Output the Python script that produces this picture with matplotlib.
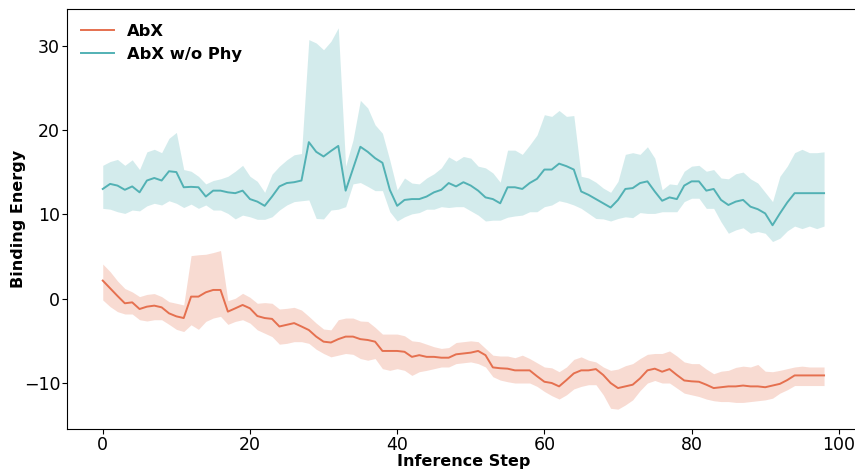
import matplotlib
matplotlib.use("Agg")
import matplotlib.pyplot as plt
import numpy as np

# inference steps 0..98
steps = np.arange(99)

# AbX (orange): mean curve and shaded band
abx_mean = [2.14, 1.23, 0.32, -0.55, -0.44, -1.23, -0.95, -0.83, -1.03, -1.74,
            -2.1, -2.3, 0.24, 0.24, 0.75, 1.03, 1.03, -1.54, -1.15, -0.75,
            -1.15, -2.06, -2.3, -2.4, -3.3, -3.1, -2.9, -3.3, -3.72, -4.5,
            -5.1, -5.2, -4.8, -4.5, -4.5, -4.8, -4.9, -5.1, -6.2, -6.2,
            -6.2, -6.3, -6.9, -6.7, -6.9, -6.9, -7.0, -7.0, -6.6, -6.5,
            -6.4, -6.2, -6.7, -8.15, -8.25, -8.3, -8.5, -8.5, -8.5, -9.2,
            -9.85, -10.0, -10.4, -9.65, -8.86, -8.5, -8.5, -8.35, -9.05, -10.0,
            -10.6, -10.4, -10.2, -9.45, -8.5, -8.3, -8.66, -8.35, -9.05, -9.7,
            -9.8, -9.85, -10.2, -10.6, -10.5, -10.4, -10.4, -10.3, -10.4, -10.4,
            -10.5, -10.3, -10.1, -9.65, -9.1, -9.1, -9.1, -9.1, -9.1]
abx_upper = [4.1, 3.2, 2.1, 1.2, 0.8, 0.24, 0.5, 0.6, 0.24, -0.36,
             -0.55, -0.75, 5.1, 5.2, 5.26, 5.46, 5.7, -0.24, 0.04, 0.63,
             0.16, -0.55, -0.47, -0.55, -1.23, -1.15, -1.03, -1.35, -2.1, -2.9,
             -3.6, -3.7, -2.5, -2.3, -2.3, -2.65, -2.7, -3.4, -4.2, -4.2,
             -4.2, -4.4, -5.0, -5.1, -5.4, -5.7, -5.9, -5.8, -5.2, -5.1,
             -5.0, -5.1, -5.9, -6.7, -6.8, -6.8, -7.0, -6.7, -7.1, -7.6,
             -8.1, -8.2, -8.66, -8.1, -7.2, -6.9, -7.3, -7.5, -8.1, -8.5,
             -8.35, -7.95, -7.7, -7.1, -6.6, -6.5, -6.5, -6.2, -6.8, -7.5,
             -7.7, -7.7, -8.35, -8.9, -8.6, -8.5, -8.15, -8.0, -8.1, -7.8,
             -8.6, -8.66, -8.5, -8.3, -8.1, -8.0, -8.1, -8.1, -8.1]
abx_lower = [-0.16, -0.95, -1.54, -1.82, -1.82, -2.5, -2.65, -2.5, -2.5, -3.05,
             -3.64, -3.9, -3.1, -3.64, -2.7, -2.3, -2.1, -3.05, -2.7, -2.5,
             -2.9, -3.7, -4.1, -4.5, -5.4, -5.3, -5.1, -5.1, -5.3, -6.0,
             -6.5, -6.9, -6.7, -6.5, -6.6, -7.1, -7.3, -7.1, -8.3, -8.5,
             -8.3, -8.5, -9.1, -8.66, -8.5, -8.3, -8.1, -8.1, -7.7, -7.6,
             -7.5, -7.7, -8.1, -9.25, -9.65, -9.85, -10.0, -10.0, -10.0, -10.4,
             -11.0, -11.5, -11.9, -11.4, -10.7, -10.4, -10.2, -10.2, -11.4, -13.0,
             -13.1, -12.6, -12.0, -10.9, -10.0, -9.7, -10.0, -10.0, -10.6, -11.2,
             -11.4, -11.6, -11.9, -12.1, -12.2, -12.2, -12.3, -12.3, -12.2, -12.1,
             -12.0, -11.8, -11.2, -10.8, -10.3, -10.3, -10.3, -10.3, -10.3]

# AbX w/o Phy (teal): mean curve and shaded band
nophy_mean = [13.0, 13.6, 13.4, 12.9, 13.3, 12.6, 14.0, 14.3, 14.0, 15.1,
              15.0, 13.2, 13.25, 13.2, 12.1, 12.8, 12.8, 12.6, 12.5, 12.8,
              11.8, 11.5, 11.0, 12.1, 13.3, 13.7, 13.8, 14.0, 18.55, 17.4,
              16.85, 17.5, 18.1, 12.8, 15.4, 18.0, 17.4, 16.65, 16.1, 12.9,
              11.0, 11.7, 11.8, 11.8, 12.1, 12.6, 12.9, 13.7, 13.3, 13.8,
              13.4, 12.8, 12.0, 11.8, 11.3, 13.2, 13.2, 13.0, 13.7, 14.2,
              15.3, 15.3, 16.0, 15.7, 15.3, 12.7, 12.3, 11.8, 11.3, 10.8,
              11.7, 13.0, 13.1, 13.7, 13.9, 12.7, 11.6, 12.0, 11.8, 13.4,
              13.9, 13.9, 12.8, 13.0, 11.7, 11.1, 11.5, 11.7, 10.9, 10.6,
              10.1, 8.7, 10.1, 11.4, 12.5, 12.5, 12.5, 12.5, 12.5]
nophy_upper = [15.8, 16.25, 16.5, 15.8, 16.45, 15.3, 17.4, 17.7, 17.3, 19.0,
               19.7, 15.3, 15.1, 14.5, 13.6, 14.0, 14.2, 14.5, 15.1, 15.8,
               14.5, 13.9, 12.6, 14.75, 15.7, 16.45, 17.05, 17.2, 30.7, 30.3,
               29.5, 30.5, 32.1, 15.7, 18.8, 23.5, 22.6, 20.6, 19.6, 16.4,
               12.9, 14.3, 13.7, 13.6, 14.3, 14.8, 15.5, 16.8, 16.3, 16.85,
               16.65, 15.7, 15.5, 14.9, 13.8, 17.6, 17.6, 17.1, 18.2, 19.4,
               21.8, 21.6, 22.3, 21.6, 21.7, 14.5, 14.3, 13.8, 13.1, 12.6,
               13.9, 17.1, 17.3, 17.1, 18.0, 16.65, 12.9, 13.6, 13.5, 15.1,
               15.7, 15.8, 15.1, 15.3, 14.3, 14.2, 14.8, 15.0, 14.2, 13.7,
               12.6, 11.5, 14.5, 15.7, 17.3, 17.7, 17.3, 17.3, 17.4]
nophy_lower = [10.7, 10.6, 10.3, 10.1, 10.5, 10.4, 11.0, 11.3, 11.1, 11.6,
               11.3, 10.8, 11.2, 10.7, 11.1, 10.5, 10.5, 10.1, 9.45, 9.9,
               9.7, 9.4, 9.4, 9.7, 10.5, 11.1, 11.5, 11.6, 11.7, 9.5,
               9.45, 10.5, 10.6, 10.9, 13.6, 13.76, 13.3, 12.8, 12.8, 10.3,
               9.2, 9.7, 10.05, 10.2, 10.6, 10.6, 10.9, 10.8, 10.9, 10.9,
               10.4, 9.9, 9.2, 9.3, 9.3, 9.65, 9.8, 9.9, 10.3, 10.3,
               10.9, 11.1, 11.6, 11.4, 11.1, 10.7, 10.1, 9.5, 9.45, 9.2,
               9.5, 9.7, 9.6, 10.2, 10.1, 10.1, 10.3, 10.3, 10.3, 11.5,
               11.9, 11.9, 10.7, 10.7, 9.1, 7.75, 8.15, 8.4, 7.75, 7.95,
               7.75, 6.77, 7.16, 8.03, 8.6, 8.3, 8.6, 8.3, 8.6]

orange = "#E5704F"
teal = "#52B1B4"

fig = plt.figure(figsize=(8.55, 4.69), dpi=100)
ax = fig.add_axes([0.078, 0.0853, 0.928, 0.895])

ax.fill_between(steps, abx_lower, abx_upper, color=orange, alpha=0.25, linewidth=0)
ax.fill_between(steps, nophy_lower, nophy_upper, color=teal, alpha=0.25, linewidth=0)
ax.plot(steps, abx_mean, color=orange, linewidth=1.4, label="AbX")
ax.plot(steps, nophy_mean, color=teal, linewidth=1.4, label="AbX w/o Phy")

ax.set_xlim(-4.9, 102.9)
ax.set_ylim(-15.45, 34.3)
ax.set_xticks([0, 20, 40, 60, 80, 100])
ax.set_yticks([-10, 0, 10, 20, 30])
ax.tick_params(labelsize=12.5, length=3.5, pad=1.2)
ax.set_xlabel("Inference Step", fontsize=11.5, fontweight="bold", labelpad=0)
ax.set_ylabel("Binding Energy", fontsize=11.5, fontweight="bold", labelpad=-2)

leg = ax.legend(loc="upper left", frameon=False, prop={"weight": "bold", "size": 11.8})

fig.savefig("out.png", dpi=100)
